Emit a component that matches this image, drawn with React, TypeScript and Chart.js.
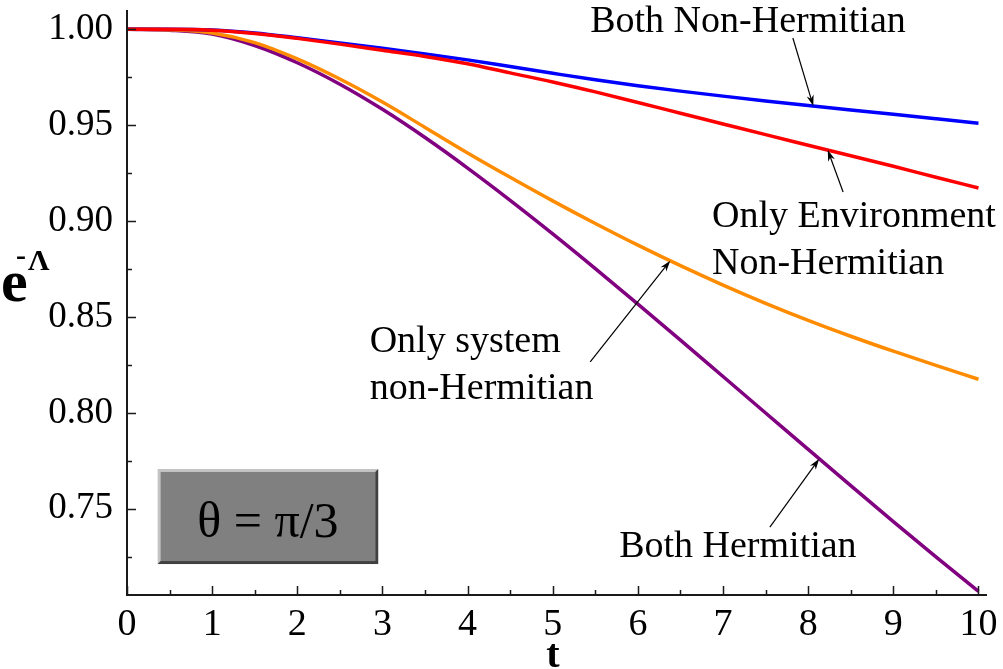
import React, { useEffect, useRef } from "react";
import { Chart, registerables } from "chart.js";

Chart.register(...registerables);

// ---- data ----
const tValues = [0, 0.5, 1, 1.5, 2, 2.5, 3, 3.5, 4, 4.5, 5, 5.5, 6, 6.5, 7, 7.5, 8, 8.5, 9, 9.5, 10];
const bothNonHermitian = [1.0, 1.0, 0.9996, 0.998, 0.9955, 0.9928, 0.99, 0.9871, 0.984, 0.9805, 0.977, 0.9736, 0.9705, 0.9677, 0.9651, 0.9626, 0.9602, 0.9579, 0.9556, 0.9533, 0.951];
const onlyEnvironmentNonHermitian = [1.0, 1.0, 0.9995, 0.9978, 0.9952, 0.9922, 0.989, 0.9858, 0.982, 0.9772, 0.9725, 0.9673, 0.9618, 0.9562, 0.9506, 0.945, 0.9395, 0.934, 0.9285, 0.9228, 0.9172];
const onlySystemNonHermitian = [1.0, 0.9997, 0.998, 0.993, 0.9845, 0.974, 0.962, 0.9488, 0.9355, 0.9228, 0.9105, 0.8987, 0.8874, 0.8767, 0.8666, 0.8571, 0.8482, 0.8399, 0.8321, 0.8247, 0.8175];
const bothHermitian = [1.0, 0.9995, 0.9975, 0.9915, 0.9825, 0.9713, 0.9582, 0.9435, 0.9276, 0.9108, 0.8933, 0.8752, 0.8567, 0.8379, 0.8189, 0.7999, 0.7809, 0.762, 0.7433, 0.7249, 0.7069];

const xMajorTicks = [0, 1, 2, 3, 4, 5, 6, 7, 8, 9, 10];
const xMinorTicks = [0.5, 1.5, 2.5, 3.5, 4.5, 5.5, 6.5, 7.5, 8.5, 9.5];
const yMajorTicks = [0.75, 0.8, 0.85, 0.9, 0.95, 1.0];
const yMinorTicks = [0.725, 0.775, 0.825, 0.875, 0.925, 0.975];

const X_MIN = 0;
const X_MAX = 10.1;
const Y_MIN = 0.705;
const Y_MAX = 1.01;

const SERIF = "'Liberation Serif', 'Times New Roman', serif";

// annotation labels (data coordinates); arrow tip lies on the named series at tipT
const annotations = [
  { lines: ["Both Non-Hermitian"], textT: 5.44, textV: 0.9985, tailT: 7.82, tailV: 0.9954, tipT: 8.06, series: bothNonHermitian },
  { lines: ["Only Environment", "Non-Hermitian"], textT: 6.87, textV: 0.8969, tailT: 8.41, tailV: 0.9151, tipT: 8.23, series: onlyEnvironmentNonHermitian },
  { lines: ["Only system", "non-Hermitian"], textT: 2.85, textV: 0.8317, tailT: 5.44, tailV: 0.8265, tipT: 6.38, series: onlySystemNonHermitian },
  { lines: ["Both Hermitian"], textT: 5.78, textV: 0.7248, tailT: 7.55, tailV: 0.7404, tipT: 8.13, series: bothHermitian },
];

const boxLabel = "θ = π/3";
const box = { t0: 0.36, t1: 2.95, vTop: 0.7707, vBottom: 0.7211 };

function valueAt(series: number[], t: number): number {
  for (let i = 0; i < tValues.length - 1; i++) {
    if (t >= tValues[i] && t <= tValues[i + 1]) {
      const f = (t - tValues[i]) / (tValues[i + 1] - tValues[i]);
      return series[i] + f * (series[i + 1] - series[i]);
    }
  }
  return series[series.length - 1];
}

const toPoints = (s: number[]) => tValues.map((t, i) => ({ x: t, y: s[i] }));

const decorPlugin = {
  id: "decor",
  afterDraw(chart: any) {
    const { ctx, chartArea: a } = chart;
    const x = chart.scales.x;
    const y = chart.scales.y;
    ctx.save();

    // axes
    ctx.strokeStyle = "#1a1a1a";
    ctx.lineWidth = 2;
    ctx.beginPath();
    ctx.moveTo(a.left, a.top);
    ctx.lineTo(a.left, a.bottom);
    ctx.lineTo(a.right, a.bottom);
    ctx.stroke();

    // inward ticks
    ctx.lineWidth = 1.5;
    ctx.beginPath();
    xMajorTicks.forEach((v) => {
      const px = Math.round(x.getPixelForValue(v)) + 0.5;
      ctx.moveTo(px, a.bottom);
      ctx.lineTo(px, a.bottom - 9);
    });
    xMinorTicks.forEach((v) => {
      const px = Math.round(x.getPixelForValue(v)) + 0.5;
      ctx.moveTo(px, a.bottom);
      ctx.lineTo(px, a.bottom - 5);
    });
    yMajorTicks.forEach((v) => {
      const py = Math.round(y.getPixelForValue(v)) + 0.5;
      ctx.moveTo(a.left, py);
      ctx.lineTo(a.left + 9, py);
    });
    yMinorTicks.forEach((v) => {
      const py = Math.round(y.getPixelForValue(v)) + 0.5;
      ctx.moveTo(a.left, py);
      ctx.lineTo(a.left + 5, py);
    });
    ctx.stroke();

    // theta box with bevel
    const bx0 = x.getPixelForValue(box.t0);
    const bx1 = x.getPixelForValue(box.t1);
    const by0 = y.getPixelForValue(box.vTop);
    const by1 = y.getPixelForValue(box.vBottom);
    const b = 3;
    ctx.fillStyle = "#c4c4c4";
    ctx.fillRect(bx0, by0, bx1 - bx0, by1 - by0);
    ctx.fillStyle = "#404040";
    ctx.beginPath();
    ctx.moveTo(bx1, by0);
    ctx.lineTo(bx1, by1);
    ctx.lineTo(bx0, by1);
    ctx.lineTo(bx0 + b, by1 - b);
    ctx.lineTo(bx1 - b, by1 - b);
    ctx.lineTo(bx1 - b, by0 + b);
    ctx.closePath();
    ctx.fill();
    ctx.fillStyle = "#808080";
    ctx.fillRect(bx0 + b, by0 + b, bx1 - bx0 - 2 * b, by1 - by0 - 2 * b);
    ctx.fillStyle = "#000";
    ctx.font = `50px ${SERIF}`;
    ctx.textAlign = "center";
    ctx.textBaseline = "alphabetic";
    ctx.fillText(boxLabel, (bx0 + bx1) / 2, (by0 + by1) / 2 + 20);

    // annotations
    ctx.font = `38px ${SERIF}`;
    ctx.textAlign = "left";
    annotations.forEach((an) => {
      const tx = x.getPixelForValue(an.textT);
      const ty = y.getPixelForValue(an.textV);
      an.lines.forEach((line, i) => ctx.fillText(line, tx, ty + i * 47));
      const sx = x.getPixelForValue(an.tailT);
      const sy = y.getPixelForValue(an.tailV);
      const ex = x.getPixelForValue(an.tipT);
      const ey = y.getPixelForValue(valueAt(an.series, an.tipT));
      const ang = Math.atan2(ey - sy, ex - sx);
      const L = 11;
      const W = 3.6;
      ctx.strokeStyle = "#000";
      ctx.lineWidth = 1.2;
      ctx.beginPath();
      ctx.moveTo(sx, sy);
      ctx.lineTo(ex - Math.cos(ang) * 6, ey - Math.sin(ang) * 6);
      ctx.stroke();
      ctx.beginPath();
      ctx.moveTo(ex, ey);
      ctx.lineTo(ex - L * Math.cos(ang) + W * Math.sin(ang), ey - L * Math.sin(ang) - W * Math.cos(ang));
      ctx.lineTo(ex - 0.7 * L * Math.cos(ang), ey - 0.7 * L * Math.sin(ang));
      ctx.lineTo(ex - L * Math.cos(ang) - W * Math.sin(ang), ey - L * Math.sin(ang) + W * Math.cos(ang));
      ctx.closePath();
      ctx.fillStyle = "#000";
      ctx.fill();
    });

    // axis titles
    ctx.fillStyle = "#000";
    ctx.textAlign = "left";
    ctx.font = `bold 60px ${SERIF}`;
    ctx.fillText("e", 1, 301);
    ctx.font = `bold 30px ${SERIF}`;
    ctx.fillText("-", 16, 265);
    ctx.fillText("Λ", 28, 270);
    ctx.font = `bold 40px ${SERIF}`;
    ctx.textAlign = "center";
    ctx.fillText("t", (a.left + a.right) / 2 - 4, 667);

    ctx.restore();
  },
};

export default function App() {
  const ref = useRef<HTMLCanvasElement | null>(null);

  useEffect(() => {
    document.body.style.margin = "0";
    document.body.style.overflow = "hidden";
    const canvas = ref.current;
    if (!canvas) return;
    const chart = new Chart(canvas, {
      type: "line",
      data: {
        datasets: [
          { label: "Only Environment Non-Hermitian", data: toPoints(onlyEnvironmentNonHermitian), borderColor: "#ff0000" },
          { label: "Both Non-Hermitian", data: toPoints(bothNonHermitian), borderColor: "#0000ff" },
          { label: "Only system non-Hermitian", data: toPoints(onlySystemNonHermitian), borderColor: "#ff8c00" },
          { label: "Both Hermitian", data: toPoints(bothHermitian), borderColor: "#800080" },
        ].map((d) => ({ ...d, borderWidth: 3.5, pointRadius: 0, fill: false, cubicInterpolationMode: "monotone" as const })),
      },
      options: {
        animation: false,
        responsive: false,
        devicePixelRatio: 1,
        layout: { padding: { left: 0, top: 10, right: 16, bottom: 0 } },
        plugins: { legend: { display: false }, tooltip: { enabled: false } },
        events: [],
        scales: {
          x: {
            type: "linear",
            min: X_MIN,
            max: X_MAX,
            grid: { display: false },
            border: { display: false },
            afterBuildTicks: (s: any) => {
              s.ticks = xMajorTicks.map((v) => ({ value: v }));
            },
            afterFit: (s: any) => {
              s.height = 74;
              s.paddingLeft = 0;
              s.paddingRight = 0;
            },
            ticks: {
              color: "#000",
              padding: -1,
              maxRotation: 0,
              autoSkip: false,
              font: { family: SERIF, size: 38 },
              callback: (v: any) => String(v),
            },
          },
          y: {
            type: "linear",
            min: Y_MIN,
            max: Y_MAX,
            grid: { display: false },
            border: { display: false },
            afterBuildTicks: (s: any) => {
              s.ticks = yMajorTicks.map((v) => ({ value: v }));
            },
            afterFit: (s: any) => {
              s.width = 127;
              s.paddingTop = 0;
              s.paddingBottom = 0;
            },
            ticks: {
              color: "#000",
              padding: 6,
              autoSkip: false,
              font: { family: SERIF, size: 37 },
              callback: (v: any) => Number(v).toFixed(2),
            },
          },
        },
      },
      plugins: [decorPlugin],
    });
    return () => chart.destroy();
  }, []);

  return (
    <div style={{ width: 1003, height: 669, background: "#fff" }}>
      <canvas ref={ref} width={1003} height={669} style={{ display: "block" }} />
    </div>
  );
}
